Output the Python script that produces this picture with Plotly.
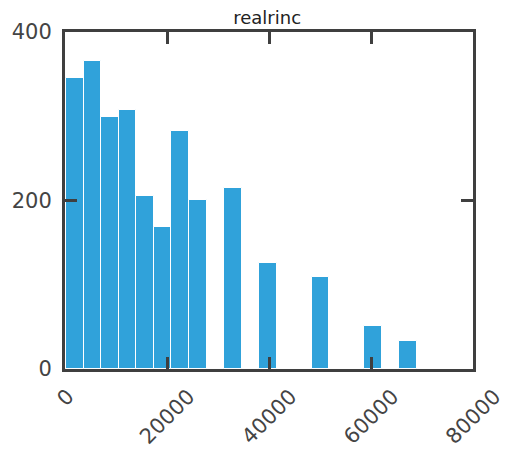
import plotly.graph_objects as go

# Histogram of real respondent income: 20 equal-width bins
bin_start = 227
bin_width = 3440
bin_centers = [1947, 5387, 8827, 12267, 15707, 19147, 22587, 26027, 29467, 32907,
               36347, 39787, 43227, 46667, 50107, 53547, 56987, 60427, 63867, 67307]
counts = [345, 366, 299, 307, 205, 168, 283, 201, 0, 215,
          0, 126, 0, 0, 109, 0, 0, 51, 0, 33]

x_ticks = [0, 20000, 40000, 60000, 80000]
x_tick_text = ["0", "20000", "40000", "60000", "80000"]
y_ticks = [0, 200, 400]

tick_font = dict(family="DejaVu Sans", size=21, color="#444444")

fig = go.Figure(
    go.Bar(
        x=bin_centers,
        y=counts,
        width=bin_width,
        marker=dict(color="#30a2da", line=dict(color="#ffffff", width=1)),
    )
)

axis_style = dict(
    showline=True,
    linecolor="#3f3f3f",
    linewidth=3,
    mirror="ticks",
    ticks="inside",
    ticklen=12,
    tickwidth=2.5,
    tickcolor="#3f3f3f",
    showgrid=False,
    zeroline=False,
    tickfont=tick_font,
)

fig.update_xaxes(
    range=[0, 80000],
    tickvals=x_ticks,
    showticklabels=False,
    **axis_style,
)
fig.update_yaxes(
    range=[0, 400],
    tickvals=y_ticks,
    ticklabelstandoff=6,
    **axis_style,
)

# Rotated x tick labels, each centred under its tick
for val, txt in zip(x_ticks, x_tick_text):
    fig.add_annotation(
        x=val,
        xref="x",
        y=0,
        yref="paper",
        yshift=-13,
        text=txt,
        textangle=-45,
        showarrow=False,
        xanchor="center",
        yanchor="top",
        font=tick_font,
    )

fig.update_layout(
    width=506,
    height=460,
    margin=dict(l=63, r=33, t=32, b=91),
    paper_bgcolor="#ffffff",
    plot_bgcolor="#ffffff",
    showlegend=False,
    bargap=0,
    title=dict(
        text="realrinc",
        x=0.528,
        xanchor="center",
        y=0.962,
        yanchor="middle",
        font=dict(family="DejaVu Sans", size=18, color="#222222"),
    ),
)

fig.write_html("out.html")
